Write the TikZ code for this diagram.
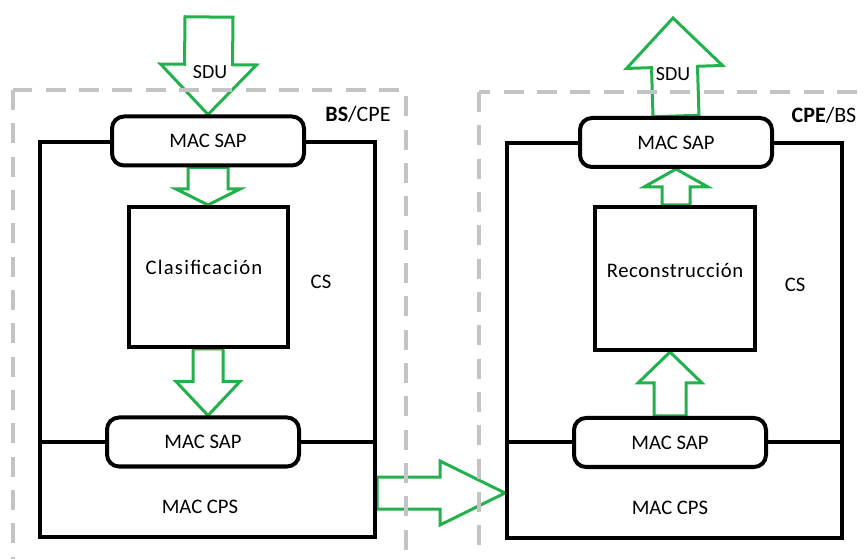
\documentclass[tikz,border=0pt]{standalone}
\usepackage{fontspec}
\setmainfont{Carlito}
\usetikzlibrary{calc, backgrounds}
\definecolor{flowgreen}{RGB}{34,177,76}
\definecolor{stationgray}{RGB}{195,195,195}
\tikzset{
  sapbox/.style={draw=black, line width=3pt, rounded corners=9pt, fill=white,
                 minimum width=144pt, minimum height=36.75pt, inner sep=0pt,
                 font=\fontsize{15.5}{18}\selectfont},
  procbox/.style={draw=black, line width=3pt, fill=white, inner sep=0pt},
  layerbox/.style={draw=black, line width=3pt, minimum width=251.25pt,
                   minimum height=296.25pt, inner sep=0pt},
  layerline/.style={draw=black, line width=3pt},
  stationbox/.style={draw=stationgray, line width=3pt, dash pattern=on 15pt off 10pt},
  flowarrow/.style={draw=flowgreen, line width=2.25pt, line join=miter},
  lbl/.style={font=\fontsize{15.5}{18}\selectfont, inner sep=0pt},
  tag/.style={font=\fontsize{16.5}{20}\selectfont, inner sep=0pt},
}
% outlined block arrow: start, tip, shaft half width, head half width, head length (px)
\newcommand{\blockarrow}[5]{%
  \coordinate (hb) at ($(#2)!#5*0.75pt!(#1)$);
  \draw[flowarrow] ($(#1)!#3*0.75pt!90:(#2)$) -- ($(hb)!#3*0.75pt!90:(#2)$)
    -- ($(hb)!#4*0.75pt!90:(#2)$) -- (#2)
    -- ($(hb)!#4*0.75pt!-90:(#2)$) -- ($(hb)!#3*0.75pt!-90:(#2)$)
    -- ($(#1)!#3*0.75pt!-90:(#2)$) -- cycle;
}

\begin{document}
\begin{tikzpicture}[x=0.75pt, y=-0.75pt]
  \useasboundingbox (0,0) rectangle (864,559);

  % BS/CPE side
  \node[layerbox] (outerL) at (207.5,339.5) {};
  \node[sapbox] (sapTL) at (208,141) {MAC SAP};
  \node[procbox, minimum width=119.25pt, minimum height=105pt] (clasif) at (208,277) {};
  \node[lbl] (clasifTxt) at (204,267) {\addfontfeature{LetterSpace=6}Clasificación};
  \node[sapbox] (sapBL) at (203,442) {MAC SAP};
  \node[lbl] (cpsL) at (200,507) {MAC CPS};
  \node[lbl] (csL) at (321,282) {CS};
  \node[tag] (tagL) at (358,114) {\textbf{BS}/CPE};

  % CPE/BS side
  \node[layerbox] (outerR) at (674.5,340.5) {};
  \node[sapbox] (sapTR) at (676,142.5) {MAC SAP};
  \node[procbox, minimum width=120pt, minimum height=107.25pt] (recon) at (675,278.5) {};
  \node[lbl] (reconTxt) at (675,270) {\addfontfeature{LetterSpace=3}Reconstrucción};
  \node[sapbox] (sapBR) at (670,442.5) {MAC SAP};
  \node[lbl] (cpsR) at (670,508) {MAC CPS};
  \node[lbl] (csR) at (795,285) {CS};
  \node[tag] (tagR) at (824,115) {\textbf{CPE}/BS};

  \coordinate (sduIn) at (209,17);
  \coordinate (sduOut) at (673,18);
  \coordinate (linkA) at (outerL.east |- 0,493);
  \coordinate (linkB) at (outerR.west |- linkA);
  \coordinate (clasifOut) at (clasif.south |- sapBL.north);
  \coordinate (reconIn) at (recon.south -| sapBR.north);
  \coordinate (reconOut) at (recon.north -| sapTR.south);

  \node[lbl, font=\fontsize{15}{18}\selectfont] (sduInTxt) at (210,72) {SDU};
  \node[lbl, font=\fontsize{15}{18}\selectfont] (sduOutTxt) at (673,74) {SDU};

  \begin{scope}[on background layer]
    \blockarrow{sduIn}{sapTL.north}{24}{48}{50}
    \blockarrow{sapTL.south}{clasif.north}{20}{32}{16}
    \blockarrow{clasif.south}{clasifOut}{15}{32}{34}
    \blockarrow{linkA}{linkB}{16}{32}{65}
    \blockarrow{sapBR.north}{reconIn}{16}{32}{31}
    \blockarrow{reconOut}{sapTR.south}{14}{32}{18}
    \blockarrow{sapTR.north}{sduOut}{23}{48}{49}

    \draw[stationbox] (13,90) rectangle (406,640);
    \draw[stationbox] (479,92) rectangle (920,640);

    \draw[layerline] (outerL.west |- sapBL) -- (outerL.east |- sapBL);
    \draw[layerline] (outerR.west |- sapBR) -- (outerR.east |- sapBR);
  \end{scope}
\end{tikzpicture}
\end{document}
